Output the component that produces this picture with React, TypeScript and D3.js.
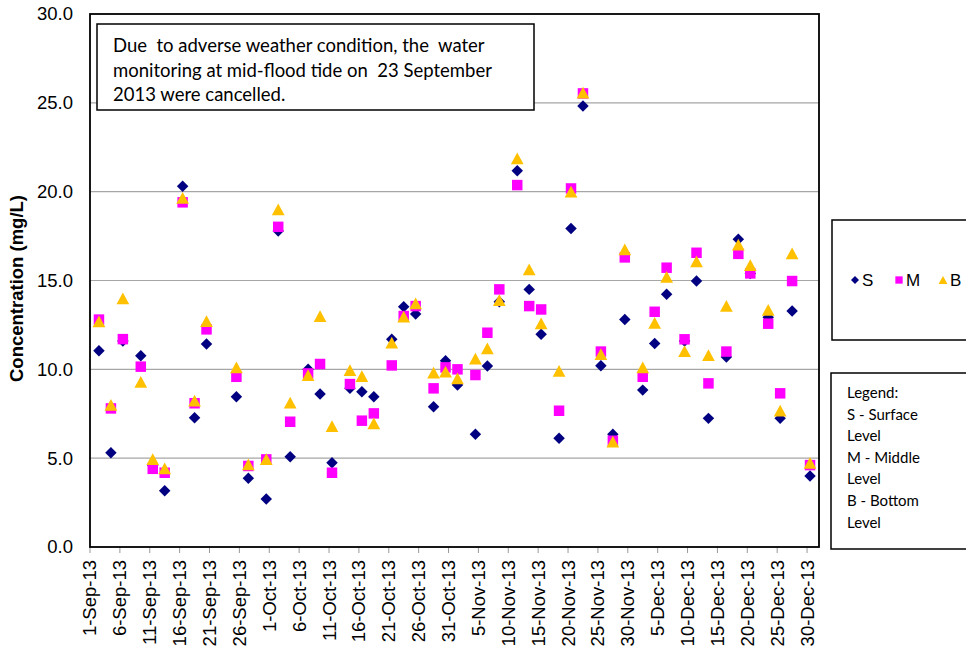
import React from 'react';
import * as d3 from 'd3';

const dates = [
  '2013-09-02','2013-09-04','2013-09-06','2013-09-09','2013-09-11','2013-09-13','2013-09-16','2013-09-18','2013-09-20',
  '2013-09-25','2013-09-27','2013-09-30','2013-10-02','2013-10-04','2013-10-07','2013-10-09','2013-10-11','2013-10-14',
  '2013-10-16','2013-10-18','2013-10-21','2013-10-23','2013-10-25','2013-10-28','2013-10-30','2013-11-01','2013-11-04',
  '2013-11-06','2013-11-08','2013-11-11','2013-11-13','2013-11-15','2013-11-18','2013-11-20','2013-11-22','2013-11-25',
  '2013-11-27','2013-11-29','2013-12-02','2013-12-04','2013-12-06','2013-12-09','2013-12-11','2013-12-13','2013-12-16',
  '2013-12-18','2013-12-20','2013-12-23','2013-12-25','2013-12-27','2013-12-30'
];

const surface = [
  11.05, 5.3, 11.6, 10.77, 4.6, 3.17, 20.3, 7.28, 11.42,
  8.46, 3.87, 2.7, 17.78, 5.08, 10.0, 8.61, 4.74, 8.93,
  8.74, 8.46, 11.69, 13.52, 13.11, 7.9, 10.48, 9.12, 6.34,
  10.19, 13.8, 21.18, 14.5, 11.97, 6.12, 17.93, 24.82, 10.2,
  6.35, 12.81, 8.83, 11.46, 14.22, 11.6, 14.97, 7.24, 10.69,
  17.32, 15.4, 12.93, 7.24, 13.28, 4.0
];

const middle = [
  12.8, 7.8, 11.7, 10.15, 4.4, 4.18, 19.4, 8.09, 12.25,
  9.58, 4.56, 4.93, 18.02, 7.05, 9.77, 10.3, 4.18, 9.17,
  7.11, 7.52, 10.22, 13.0, 13.56, 8.93, 10.11, 10.0, 9.68,
  12.06, 14.5, 20.37, 13.56, 13.37, 7.67, 20.18, 25.53, 11.0,
  5.98, 16.3, 9.58, 13.24, 15.72, 11.69, 16.56, 9.21, 11.0,
  16.5, 15.4, 12.57, 8.65, 14.97, 4.61
];

const bottom = [
  12.7, 8.0, 14.0, 9.3, 4.95, 4.43, 19.65, 8.24, 12.72,
  10.11, 4.65, 4.95, 19.0, 8.12, 9.68, 13.0, 6.81, 9.96,
  9.62, 6.96, 11.5, 12.96, 13.71, 9.81, 9.87, 9.49, 10.6,
  11.18, 13.9, 21.87, 15.63, 12.59, 9.92, 20.0, 25.57, 10.86,
  5.93, 16.75, 10.11, 12.62, 15.21, 11.03, 16.08, 10.8, 13.57,
  17.02, 15.87, 13.34, 7.67, 16.53, 4.74
];

const yTicks = [0, 5, 10, 15, 20, 25, 30];
const noteLines = [
  'Due  to adverse weather condition, the  water',
  'monitoring at mid-flood tide on  23 September',
  '2013 were cancelled.'
];
const legendNotes = ['Legend:', 'S - Surface', 'Level', 'M - Middle', 'Level', 'B - Bottom', 'Level'];
const seriesNames = ['S', 'M', 'B'];

const W = 966, H = 658;
const L = 90, R = 819, T = 14, B = 547;
const ARIAL = '"Liberation Sans", Arial, sans-serif';
const CAL = 'Lato, "Open Sans", sans-serif';

const parse = d3.utcParse('%Y-%m-%d');
const x = d3.scaleUtc().domain([parse('2013-09-01')!, parse('2014-01-01')!]).range([L, R]);
const y = d3.scaleLinear().domain([0, 30]).range([B, T]);
const xTicks = d3.utcDay.range(parse('2013-09-01')!, parse('2013-12-31')!, 1).filter((d, i) => i % 5 === 0);
const fmt = d3.utcFormat('%-d-%b-%y');
const px = (s: string) => x(d3.utcHour.offset(parse(s)!, 12));

// Excel-style triangle: bounding box centred on the point, roughly as tall as wide
const excelTriangle = {
  draw(ctx: any, size: number) {
    const s = Math.sqrt(size);
    const w = s * 0.52, h = s * 0.48;
    ctx.moveTo(0, -h);
    ctx.lineTo(w, h);
    ctx.lineTo(-w, h);
    ctx.closePath();
  }
};

const diamond = d3.symbol().type(d3.symbolDiamond2).size(84)();
const square = d3.symbol().type(d3.symbolSquare2).size(140)();
const triangle = d3.symbol().type(excelTriangle as any).size(150)();

const NAVY = '#000080', MAG = '#FF00FF', GOLD = '#FFC000';

export default function App() {
  const series = [
    { vals: surface, path: diamond, color: NAVY },
    { vals: middle, path: square, color: MAG },
    { vals: bottom, path: triangle, color: GOLD },
  ];
  return (
    <svg width={W} height={H} style={{ position: 'absolute', left: 0, top: 0, background: '#fff' }}>
      <rect x={0} y={0} width={W} height={H} fill="#fff" />
      {yTicks.filter(t => t > 0 && t < 30).map(t => (
        <line key={t} x1={L} x2={R} y1={y(t)} y2={y(t)} stroke="#a6a6a6" strokeWidth={1.2} />
      ))}
      {yTicks.map(t => (
        <text key={t} x={73} y={y(t)} dy="0.35em" textAnchor="end" fontFamily={ARIAL} fontSize={18.5} fill="#000">
          {d3.format('.1f')(t)}
        </text>
      ))}
      <text transform={`translate(23,${(T + B) / 2 + 8}) rotate(-90)`} textAnchor="middle" fontFamily={ARIAL}
        fontWeight="bold" fontSize={18.5}>Concentration (mg/L)</text>
      {xTicks.map((d, i) => (
        <g key={i}>
          <line x1={x(d)} x2={x(d)} y1={B} y2={B + 6} stroke="#999" strokeWidth={1} />
          <text transform={`translate(${x(d)},${B + 13}) rotate(-90)`} dy="0.35em" textAnchor="end"
            fontFamily={ARIAL} fontSize={18.5}>{fmt(d)}</text>
        </g>
      ))}
      {series.map((s, si) => (
        <g key={si}>
          {s.vals.map((v, i) => (
            <path key={i} d={s.path} transform={`translate(${px(dates[i])},${y(v)})`} fill={s.color} />
          ))}
        </g>
      ))}
      <rect x={L} y={T} width={R - L} height={B - T} fill="none" stroke="#000" strokeWidth={1.8} />
      <rect x={97} y={24} width={437} height={86} fill="#fff" stroke="#000" strokeWidth={1.5} />
      {noteLines.map((t, i) => (
        <text key={i} x={113} y={52 + i * 24.5} fontFamily={CAL} fontSize={18.5} style={{ whiteSpace: 'pre' }}>{t}</text>
      ))}
      <rect x={832} y={220} width={200} height={120} fill="#fff" stroke="#000" strokeWidth={1.5} />
      {series.map((s, si) => (
        <g key={si} transform={`translate(${855 + si * 44},280)`}>
          <path d={s.path} transform="scale(0.7)" fill={s.color} />
          <text x={7} y={0} dy="0.36em" fontFamily={ARIAL} fontSize={17}>{seriesNames[si]}</text>
        </g>
      ))}
      <rect x={831} y={373} width={200} height={176} fill="#fff" stroke="#000" strokeWidth={1.5} />
      {legendNotes.map((t, i) => (
        <text key={i} x={847} y={398 + i * 21.6} fontFamily={CAL} fontSize={15}>{t}</text>
      ))}
    </svg>
  );
}
